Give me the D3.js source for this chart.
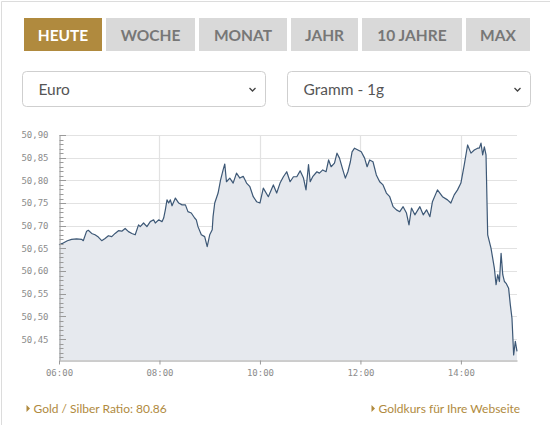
<!DOCTYPE html>
<html>
<head>
<meta charset="utf-8">
<script src="https://cdn.jsdelivr.net/npm/d3@7/dist/d3.min.js"></script>
<style>
  html, body { margin: 0; padding: 0; background: #fff; }
  svg { display: block; }
</style>
</head>
<body>
<svg id="chart" width="550" height="425"></svg>
<script>
// ---- data ----
const times = ["06:00","06:04","06:10","06:15","06:21","06:27","06:29","06:33","06:35","06:39","06:43","06:47","06:51","06:55","06:59",
"07:03","07:07","07:11","07:15","07:19","07:23","07:27","07:31","07:35","07:37","07:41","07:45","07:49","07:53","07:55","07:59",
"08:03","08:05","08:07","08:09","08:11","08:13","08:15","08:19","08:23","08:27","08:31","08:34","08:38","08:42","08:44","08:46","08:50","08:54","08:57",
"09:00","09:03","09:04","09:06","09:10","09:13","09:16","09:18","09:20","09:24","09:28","09:32","09:36","09:40","09:44","09:48","09:52","09:56",
"10:00","10:04","10:10","10:16","10:20","10:24","10:28","10:32","10:36","10:40","10:44","10:48","10:52","10:55","10:58",
"11:00","11:03","11:08","11:11","11:15","11:19","11:22","11:25","11:29","11:32","11:35","11:39","11:42","11:45","11:48","11:50","11:53","11:57",
"12:01","12:05","12:08","12:11","12:15","12:19","12:23","12:27","12:31","12:35","12:39","12:43","12:47","12:51","12:55","12:58",
"13:01","13:05","13:11","13:15","13:19","13:23","13:26","13:32","13:38","13:44","13:48","13:52","13:56",
"14:00","14:04","14:08","14:12","14:16","14:20","14:22","14:24","14:26","14:28","14:30","14:32","14:34","14:36","14:38","14:40","14:42","14:44","14:46","14:48","14:50","14:52","14:54","14:57","14:59",
"15:01","15:03","15:05","15:07"];
const prices = [50.658,50.661,50.667,50.670,50.671,50.670,50.667,50.688,50.690,50.683,50.680,50.675,50.667,50.672,50.678,
50.676,50.683,50.689,50.688,50.694,50.687,50.683,50.680,50.702,50.698,50.706,50.698,50.709,50.713,50.706,50.713,
50.709,50.717,50.735,50.757,50.750,50.757,50.744,50.761,50.750,50.746,50.746,50.731,50.728,50.717,50.713,50.698,50.680,50.676,50.654,
50.680,50.691,50.720,50.750,50.772,50.801,50.823,50.836,50.797,50.805,50.794,50.816,50.805,50.809,50.794,50.786,50.764,50.753,
50.750,50.783,50.764,50.790,50.772,50.794,50.808,50.819,50.797,50.808,50.808,50.821,50.805,50.779,50.835,
50.797,50.808,50.819,50.816,50.823,50.819,50.845,50.830,50.838,50.860,50.849,50.823,50.805,50.819,50.841,50.863,50.871,50.867,
50.863,50.849,50.830,50.845,50.841,50.812,50.797,50.790,50.772,50.764,50.742,50.735,50.731,50.742,50.728,50.702,
50.739,50.724,50.742,50.724,50.735,50.720,50.753,50.779,50.764,50.757,50.750,50.768,50.779,
50.794,50.834,50.878,50.860,50.867,50.871,50.871,50.882,50.856,50.874,50.856,50.680,50.665,50.650,50.628,50.606,50.570,50.592,50.577,50.639,50.592,50.577,50.573,50.562,50.526,
50.496,50.415,50.445,50.423];
const xTickLabels = ["06:00","08:00","10:00","12:00","14:00"];
const yTickValues = [50.45,50.50,50.55,50.60,50.65,50.70,50.75,50.80,50.85,50.90];
const tabs = ["HEUTE","WOCHE","MONAT","JAHR","10 JAHRE","MAX"];
const selects = ["Euro","Gramm - 1g"];
const links = ["Gold / Silber Ratio: 80.86","Goldkurs für Ihre Webseite"];

// ---- helpers ----
const parse = d3.timeParse("%H:%M");
const data = times.map((t,i)=>({t: parse(t), v: prices[i]}));
const svg = d3.select("#chart");
const gold = "#b08a3e";

// outer frame
svg.append("path").attr("d","M1.5,425 V1.5 H550").attr("fill","none").attr("stroke","#dcdcdc");

// tabs
const tabX = [24,106,199,291,362,466];
const tabW = [78,89,88,67,100,64];
tabs.forEach((t,i)=>{
  svg.append("rect").attr("x",tabX[i]).attr("y",18).attr("width",tabW[i]).attr("height",33)
    .attr("fill", i===0 ? gold : "#d9d9d9");
  svg.append("text").attr("x",tabX[i]+tabW[i]/2).attr("y",40.5).attr("text-anchor","middle")
    .attr("font-family","Lato").attr("font-weight","bold").attr("font-size","15.5px")
    .attr("fill", i===0 ? "#fff" : "#777").text(t);
});

// selects
const selX = [22.5,287.5], selW = [243,243];
selects.forEach((s,i)=>{
  svg.append("rect").attr("x",selX[i]).attr("y",71.5).attr("width",selW[i]).attr("height",35)
    .attr("rx",4).attr("fill","#fff").attr("stroke","#cfcfcf");
  svg.append("text").attr("x",selX[i]+16).attr("y",95).attr("font-family","Lato")
    .attr("font-size","15.5px").attr("fill","#555").text(s);
  const cx = selX[i]+selW[i]-13;
  svg.append("path").attr("d",`M${cx-3},88 L${cx},91 L${cx+3},88`).attr("fill","none")
    .attr("stroke","#444").attr("stroke-width",1.3);
});

// chart scales
const x = d3.scaleTime().domain([parse("06:00"), parse("15:07")]).range([59, 517]);
const y = d3.scaleLinear().domain([50.404, 50.90]).range([360, 135]);

const g = svg.append("g");
// horizontal gridlines
g.selectAll(".hg").data(yTickValues).enter().append("line")
  .attr("x1",59).attr("x2",517).attr("y1",d=>Math.round(y(d))+0.5).attr("y2",d=>Math.round(y(d))+0.5)
  .attr("stroke","#e2e2e2").attr("stroke-width",1.2);
// vertical gridlines
g.selectAll(".vg").data(xTickLabels.slice(1)).enter().append("line")
  .attr("x1",d=>Math.round(x(parse(d)))+0.5).attr("x2",d=>Math.round(x(parse(d)))+0.5)
  .attr("y1",135).attr("y2",360).attr("stroke","#e2e2e2").attr("stroke-width",1.2);

// area + line
const area = d3.area().x(d=>x(d.t)).y0(360).y1(d=>y(d.v));
const line = d3.line().x(d=>x(d.t)).y(d=>y(d.v));
g.append("path").datum(data).attr("d",area).attr("fill","#e6e9ee");
g.append("path").datum(data).attr("d",line).attr("fill","none")
  .attr("stroke","#3d5876").attr("stroke-width",1.2).attr("stroke-linejoin","round");

// y axis
const fmt = v => d3.format(".2f")(v).replace(".", ",");
const yAxis = d3.axisLeft(y).tickValues(yTickValues).tickFormat(fmt).tickSize(0).tickPadding(11);
const ya = svg.append("g").attr("transform","translate(59.5,0)").call(yAxis);
ya.select(".domain").attr("stroke","#9a9a9a");
ya.selectAll("text").attr("font-family","DejaVu Sans Mono").attr("font-size","9px").attr("fill","#8c8c8c");
// minor ticks on y axis (inside)
const minor = d3.range(41, 91).map(k => 50 + k/100);
svg.append("g").selectAll("line").data(minor).enter().append("line")
  .attr("x1",59.5).attr("x2",d=>Math.abs(Math.round(d*100)%5)===0 ? 66 : 63.5)
  .attr("y1",d=>Math.round(y(d))+0.5).attr("y2",d=>Math.round(y(d))+0.5)
  .attr("stroke","#9a9a9a");

// x axis
const xAxis = d3.axisBottom(x).tickValues(xTickLabels.map(parse)).tickFormat(d3.timeFormat("%H:%M"))
  .tickSize(4).tickPadding(5).tickSizeOuter(0);
const xa = svg.append("g").attr("transform","translate(0,360.5)").call(xAxis);
xa.select(".domain").attr("stroke","#9a9a9a");
xa.selectAll(".tick line").attr("stroke","#9a9a9a");
xa.selectAll("text").attr("font-family","DejaVu Sans Mono").attr("font-size","9px").attr("fill","#8c8c8c");

// links
const linkX = [33.5, 378.5];
links.forEach((l,i)=>{
  svg.append("path").attr("d",`M${linkX[i]-7},405 L${linkX[i]-3.5},408.5 L${linkX[i]-7},412 Z`).attr("fill",gold);
  svg.append("text").attr("x",linkX[i]).attr("y",412.5).attr("font-family","Lato")
    .attr("font-size","12px").attr("fill",gold).text(l);
});
</script>
</body>
</html>
